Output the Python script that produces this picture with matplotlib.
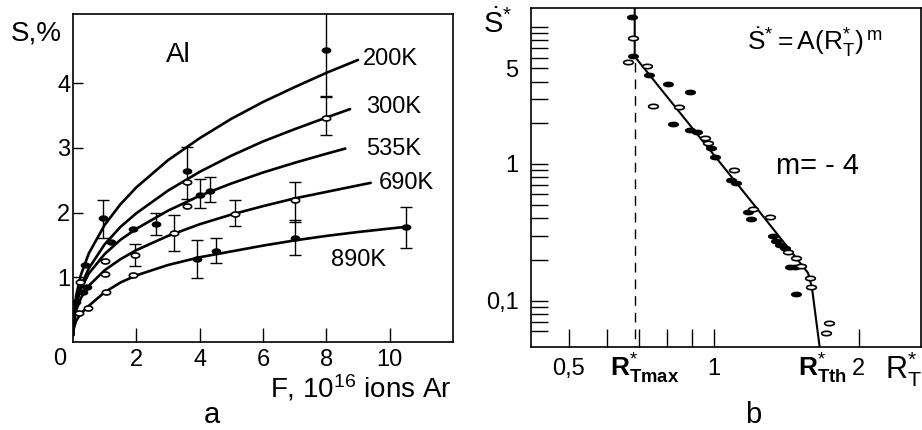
import numpy as np
import matplotlib
matplotlib.use('Agg')
import matplotlib.pyplot as plt
import matplotlib.transforms as mtransforms

plt.rcParams['font.family'] = ['Liberation Sans', 'DejaVu Sans']
plt.rcParams['mathtext.fontset'] = 'custom'
plt.rcParams['mathtext.rm'] = 'Liberation Sans'
plt.rcParams['mathtext.it'] = 'Liberation Sans:italic'
plt.rcParams['mathtext.bf'] = 'Liberation Sans:bold'

# ---- panel a: swelling S(%) vs fluence F, Al, several temperatures
temps = ['200K', '300K', '535K', '690K', '890K']
F200 = [0.0, 0.02, 0.1, 0.25, 0.5, 1, 1.5, 2, 3, 4, 5, 6, 7, 8, 9]
S200 = [0.1, 0.38, 0.72, 1.04, 1.37, 1.81, 2.13, 2.39, 2.81, 3.15, 3.45, 3.71, 3.94, 4.16, 4.36]
F300 = [0.0, 0.02, 0.1, 0.25, 0.5, 1, 1.5, 2, 3, 4, 5, 6, 7, 8, 8.75]
S300 = [0.1, 0.32, 0.60, 0.87, 1.14, 1.51, 1.78, 1.99, 2.34, 2.63, 2.88, 3.10, 3.29, 3.47, 3.60]
F535 = [0.0, 0.02, 0.1, 0.25, 0.5, 1, 1.5, 2, 3, 4, 5, 6, 7, 8, 8.6]
S535 = [0.1, 0.33, 0.58, 0.82, 1.06, 1.36, 1.58, 1.75, 2.03, 2.26, 2.45, 2.62, 2.77, 2.91, 2.99]
F690 = [0.0, 0.02, 0.1, 0.25, 0.5, 1, 1.5, 2, 3, 4, 5, 6, 7, 8, 9.4]
S690 = [0.1, 0.28, 0.49, 0.68, 0.87, 1.11, 1.28, 1.42, 1.64, 1.82, 1.97, 2.10, 2.22, 2.32, 2.46]
F890 = [0.0, 0.02, 0.1, 0.25, 0.5, 1, 1.5, 2, 3, 4, 5, 6, 7, 8, 9, 10.5]
S890 = [0.1, 0.20, 0.33, 0.44, 0.56, 0.77, 0.92, 1.03, 1.19, 1.31, 1.40, 1.49, 1.57, 1.64, 1.70, 1.78]
label_x = [9.16, 9.26, 9.26, 9.64, 8.15]
label_y = [4.37, 3.63, 2.99, 2.45, 1.26]

# measured points
fill_F = [8.0, 3.59, 0.94, 0.37, 1.9, 4.0, 4.33, 2.63, 0.45, 10.5, 7.0, 4.5, 3.9, 1.2, 0.11, 0.3]
fill_S = [4.51, 2.64, 1.91, 1.19, 1.75, 2.27, 2.33, 1.82, 0.85, 1.78, 1.6, 1.41, 1.29, 1.55, 0.62, 0.78]
open_F = [8.0, 3.59, 3.59, 3.2, 5.1, 7.0, 1.95, 1.0, 0.21, 0.18, 0.47, 1.05, 1.9, 1.0]
open_S = [3.47, 2.47, 2.1, 1.68, 1.98, 2.2, 1.35, 1.05, 0.92, 0.45, 0.53, 0.78, 1.03, 1.25]

# error bars: x, y, lower, upper
err_F = [8.0, 8.0, 3.59, 0.94, 4.0, 4.33, 2.63, 5.1, 7.0, 3.2, 1.95, 10.5, 7.0, 4.5, 3.9]
err_S = [4.51, 3.47, 2.64, 1.91, 2.27, 2.33, 1.82, 1.98, 2.2, 1.68, 1.35, 1.78, 1.6, 1.41, 1.29]
err_lo = [3.78, 3.2, 2.21, 1.6, 2.07, 2.17, 1.65, 1.8, 1.85, 1.41, 1.18, 1.45, 1.35, 1.22, 0.99]
err_hi = [5.3, 3.8, 3.02, 2.2, 2.52, 2.55, 2.0, 2.2, 2.47, 1.96, 1.52, 2.08, 1.88, 1.6, 1.58]

# ---- panel b: normalized rate vs R*_T (log-log)
lineR = [0.685, 0.685, 1.22, 1.57, 1.60, 1.66]
lineS = [14.0, 6.1, 0.49, 0.16, 0.125, 0.046]
R_Tmax = 0.686
R_Tth = 1.66
b_fill_R = [0.677, 0.68, 0.733, 0.805, 0.892, 0.823, 0.892, 0.921, 0.989, 1.005, 1.088, 1.114,
            1.178, 1.197, 1.328, 1.349, 1.37, 1.404, 1.438, 1.473, 1.484]
b_fill_S = [11.9, 6.17, 4.46, 3.83, 3.35, 1.96, 1.77, 1.71, 1.31, 1.13, 0.764, 0.723,
            0.448, 0.397, 0.30, 0.274, 0.256, 0.242, 0.178, 0.178, 0.112]
b_open_R = [0.68, 0.664, 0.728, 0.748, 0.847, 0.958, 0.973, 1.102, 1.206, 1.307, 1.426,
            1.484, 1.52, 1.582, 1.594, 1.74, 1.713]
b_open_S = [8.36, 5.55, 5.19, 2.65, 2.59, 1.54, 1.43, 0.904, 0.467, 0.413, 0.227,
            0.205, 0.18, 0.146, 0.127, 0.069, 0.058]
y_ticks_b = [0.06, 0.07, 0.08, 0.09, 0.1, 0.2, 0.3, 0.4, 0.5, 0.6, 0.7, 0.8, 0.9,
             1, 2, 3, 4, 5, 6, 7, 8, 9, 10]
x_ticks_b = [0.5, 0.6, 0.7, 0.8, 0.9, 1, 2]

# ellipse marker
t = np.linspace(0, 2 * np.pi, 40)
ell = np.column_stack([np.cos(t), 0.6 * np.sin(t)])
ell_b = np.column_stack([np.cos(t), 0.45 * np.sin(t)])

fig = plt.figure(figsize=(9.22, 4.30), dpi=100)
ax1 = fig.add_axes([73 / 922, 1 - 342 / 430, 380 / 922, 328 / 430])
ax2 = fig.add_axes([531 / 922, 1 - 347 / 430, 389.5 / 922, 339 / 430])

# panel a
for F, S in [(F200, S200), (F300, S300), (F535, S535), (F690, S690), (F890, S890)]:
    ax1.plot(F, S, color='black', lw=1.9, solid_capstyle='round')
for x, y, txt in zip(label_x, label_y, temps):
    ax1.text(x, y, txt, fontsize=17, ha='left', va='center')
yerr = [np.array(err_S) - np.array(err_lo), np.array(err_hi) - np.array(err_S)]
ax1.errorbar(err_F, err_S, yerr=yerr, fmt='none', ecolor='black', elinewidth=1,
             capsize=4, capthick=1, clip_on=True)
ax1.plot(fill_F, fill_S, ls='none', marker=ell, ms=6, mfc='black', mec='black', mew=1)
ax1.plot(open_F, open_S, ls='none', marker=ell, ms=6, mfc='white', mec='black', mew=1.2)
ax1.text(3.31, 4.43, 'Al', fontsize=20, ha='center', va='center')

ax1.set_xlim(0, 12)
ax1.set_ylim(0, 5.07)
ax1.set_xticks([2, 4, 6, 8, 10])
ax1.set_yticks([1, 2, 3, 4])
ax1.tick_params(axis='x', direction='in', length=10, width=1, labelsize=17, pad=5)
ax1.tick_params(axis='y', direction='in', length=7, width=1, labelsize=17, pad=2)
for s in ax1.spines.values():
    s.set_linewidth(1.2)

fig.text(36 / 922, 1 - 33 / 430, 'S,%', fontsize=20, ha='center', va='center')
fig.text(60 / 922, 1 - 359 / 430, '0', fontsize=17, ha='center', va='center')
fig.text(270 / 922, 1 - 388 / 430, r'F, 10$^{16}$ ions Ar', fontsize=20, ha='left', va='center')
fig.text(212 / 922, 1 - 415 / 430, 'a', fontsize=21, ha='center', va='center')

# panel b
ax2.set_xscale('log')
ax2.set_yscale('log')
ax2.plot(lineR, lineS, color='black', lw=1.5)
ax2.plot([R_Tmax, R_Tmax], [0.03, 5.6], color='black', lw=1, ls=(0, (7, 5)))
ax2.plot(b_fill_R, b_fill_S, ls='none', marker=ell_b, ms=7, mfc='black', mec='black', mew=1)
ax2.plot(b_open_R, b_open_S, ls='none', marker=ell_b, ms=7, mfc='white', mec='black', mew=1.2)

ax2.set_xlim(0.417, 2.69)
ax2.set_ylim(0.046, 13.8)
ax2.set_yticks(y_ticks_b, ['5' if v == 5 else '1' if v == 1 else '0,1' if v == 0.1 else ''
                           for v in y_ticks_b])
ax2.set_xticks(x_ticks_b, ['0,5' if v == 0.5 else '1' if v == 1 else '2' if v == 2 else ''
                           for v in x_ticks_b])
ax2.minorticks_off()
ax2.tick_params(axis='x', direction='in', length=13, width=1, labelsize=17, pad=8)
ax2.tick_params(axis='y', direction='in', length=12, width=1, labelsize=17, pad=9)
for s in ax2.spines.values():
    s.set_linewidth(1.2)

trans = mtransforms.blended_transform_factory(ax2.transData, fig.transFigure)
ax2.text(0.72, 1 - 369 / 430, r'$\mathbf{R}^{*}_{\mathbf{Tmax}}$', transform=trans,
         fontsize=19, ha='center', va='center')
ax2.text(1.68, 1 - 369 / 430, r'$\mathbf{R}^{*}_{\mathbf{Tth}}$', transform=trans,
         fontsize=19, ha='center', va='center')
fig.text(903 / 922, 1 - 369 / 430, r'$\mathrm{R}^{*}_{\mathrm{T}}$', fontsize=22,
         ha='center', va='center')
fig.text(498 / 922, 1 - 24 / 430, r'$\dot{\mathrm{S}}^{*}$', fontsize=21, ha='center', va='center')
fig.text(815 / 922, 1 - 42 / 430, r'$\dot{\mathrm{S}}^{*}\mathrm{{=}A(R^{*}_{T})^{\,m}}$',
         fontsize=19, ha='center', va='center')
fig.text(817 / 922, 1 - 166 / 430, 'm= - 4', fontsize=21, ha='center', va='center')
fig.text(753 / 922, 1 - 415 / 430, 'b', fontsize=21, ha='center', va='center')

fig.savefig('out.png', dpi=100)
